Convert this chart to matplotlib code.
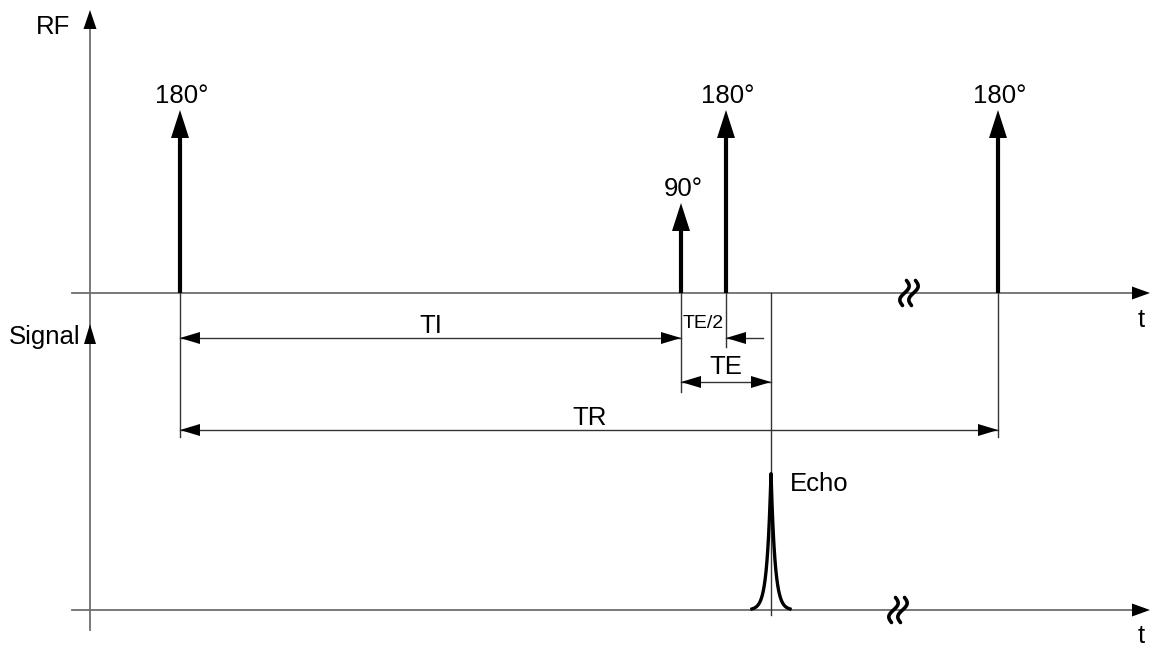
import numpy as np
import matplotlib
matplotlib.use("Agg")
import matplotlib.pyplot as plt

plt.rcParams['font.family'] = ['Liberation Sans', 'DejaVu Sans']

# ---- data (time in px-like units, t=0 at first 180° pulse) ----
pulse_times = [0, 501, 546, 818]
pulse_labels = ["180°", "90°", "180°", "180°"]
pulse_heights = [183, 90, 183, 183]
echo_time = 591
echo_height = 138
TI = 501
TE = 90
TR = 818
break_times = [729, 718]

# layout in figure pixels
W, H = 1151, 646
x0 = 180            # pixel of t=0
y_rf = 293
y_sig = 610
t_axis = -90        # vertical axis time position
t_start = -108
t_end = 970

fig = plt.figure(figsize=(W / 100, H / 100), dpi=100)
ax = fig.add_axes([0, 0, 1, 1])
ax.set_xlim(-x0, W - x0)
ax.set_ylim(H, 0)
ax.axis('off')

axis_col = '#6e6e6e'
dim_col = '#333333'
FS = 18.5


def head(tx, ty, dx, dy, length, width, color='k'):
    u = np.array([dx, dy], float)
    u /= np.hypot(*u)
    p = np.array([-u[1], u[0]])
    tip = np.array([tx, ty])
    base = tip - length * u
    pts = np.array([tip, base + p * width / 2, base - p * width / 2])
    ax.fill(pts[:, 0], pts[:, 1], color=color, lw=0, zorder=5)


# vertical axis with two arrowheads
ax.plot([t_axis, t_axis], [28, 630], color=axis_col, lw=1.3)
head(t_axis, 10, 0, -1, 19, 13)
head(t_axis, 324, 0, -1, 20, 12)
# horizontal axes
for y in (y_rf, y_sig):
    ax.plot([t_start, t_end - 17], [y, y], color=axis_col, lw=1.3)
    head(t_end, y, 1, 0, 18, 13)

# break marks
for bt, y in zip(break_times, (y_rf, y_sig)):
    s = np.linspace(-1, 1, 80)
    for off in (-4.5, 4.5):
        xs = bt + off - 3.6 * np.sin(np.pi * s) - 2.0 * s
        ys = y + 12.5 * s
        ax.plot(xs, ys, color='k', lw=2.6, solid_capstyle='round', zorder=6)

# pulses
for t, lab, h in zip(pulse_times, pulse_labels, pulse_heights):
    tip = y_rf - h
    ax.plot([t, t], [y_rf, tip + 24], color='k', lw=3.0, solid_capstyle='butt', zorder=4)
    head(t, tip, 0, -1, 28, 18)
    ax.text(t + 2, tip - 14, lab, ha='center', va='center', fontsize=FS)

# extension lines
ext = {pulse_times[0]: 437, pulse_times[1]: 392, pulse_times[2]: 347,
       echo_time: 615, pulse_times[3]: 437}
for t, yb in ext.items():
    ax.plot([t, t], [y_rf, yb], color=dim_col, lw=1.0, zorder=3)

# echo
dx = np.linspace(-19, 19, 400)
ey = y_sig - echo_height * np.exp(-np.abs(dx) / 3.9)
ax.plot(echo_time + dx, ey, color='k', lw=2.4, zorder=4)
ax.text(echo_time + 19, 484, "Echo", ha='left', va='center', fontsize=FS)

# TI dimension
y_ti = 338
ax.plot([0, TI], [y_ti, y_ti], color=dim_col, lw=1.0)
head(0, y_ti, -1, 0, 20, 12)
head(TI, y_ti, 1, 0, 20, 12)
ax.text(TI / 2, 326, "TI", ha='center', va='center', fontsize=FS)
# TE/2 dimension (outside arrows)
ax.plot([TI + TE / 2, TI + TE / 2 + 37], [y_ti, y_ti], color=dim_col, lw=1.0)
head(TI + TE / 2, y_ti, -1, 0, 20, 12)
ax.text(TI + TE / 4, 323, "TE/2", ha='center', va='center', fontsize=14)
# TE dimension
y_te = 382
ax.plot([TI, TI + TE], [y_te, y_te], color=dim_col, lw=1.0)
head(TI, y_te, -1, 0, 20, 12)
head(TI + TE, y_te, 1, 0, 20, 12)
ax.text(TI + TE / 2, 367, "TE", ha='center', va='center', fontsize=FS)
# TR dimension
y_tr = 430
ax.plot([0, TR], [y_tr, y_tr], color=dim_col, lw=1.0)
head(0, y_tr, -1, 0, 20, 12)
head(TR, y_tr, 1, 0, 20, 12)
ax.text(410, 418, "TR", ha='center', va='center', fontsize=FS)

# axis labels
ax.text(t_axis - 37, 27, "RF", ha='center', va='center', fontsize=FS)
ax.text(t_axis - 45, 337, "Signal", ha='center', va='center', fontsize=FS)
ax.text(t_end - 9, 320, "t", ha='center', va='center', fontsize=FS)
ax.text(t_end - 9, 636, "t", ha='center', va='center', fontsize=FS)

fig.savefig("out.png", dpi=100)
